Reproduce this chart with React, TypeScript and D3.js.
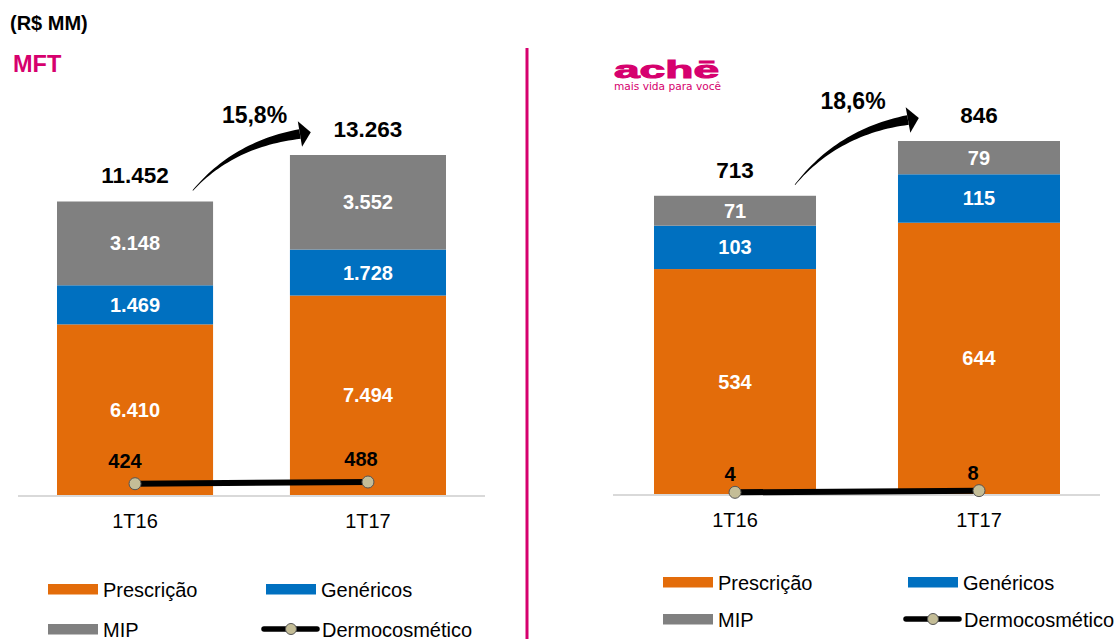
import * as d3 from "d3";

const categories = ["1T16", "1T17"];
const seriesNames = ["Prescrição", "Genéricos", "MIP"];
const seriesColors = ["#E36C0A", "#0070C0", "#808080"];

const mftPrescricao = [6410, 7494];
const mftGenericos = [1469, 1728];
const mftMip = [3148, 3552];
const mftDermo = [424, 488];
const mftTotals = ["11.452", "13.263"];
const mftGrowth = "15,8%";

const achePrescricao = [534, 644];
const acheGenericos = [103, 115];
const acheMip = [71, 79];
const acheDermo = [4, 8];
const acheTotals = ["713", "846"];
const acheGrowth = "18,6%";

const PINK = "#D6006E";
const FONT = "'Liberation Sans', Arial, Helvetica, sans-serif";

const fmt = (v: number) => d3.format(",")(v).replace(/,/g, ".");

type PanelProps = {
  series: number[][];
  dermo: number[];
  totals: string[];
  growth: string;
  growthDx: number;
  xRange: [number, number];
  padInner: number;
  baseline: number;
  topY: number;
  axisRange: [number, number];
  dermoLabelDy: number;
  dermoLabelDx: number[];
  legendX: number;
  legendY: number;
  legendColGap: number;
  legendRowGap: number;
};

function Arrow({ x0, y0, x1, y1 }: { x0: number; y0: number; x1: number; y1: number }) {
  // tapered curved arrow: thin tail growing toward a short, wide head
  const headLen = 11;
  const bx = x1 - headLen;
  const by = y1 + 3;
  const cx = x0 + (bx - x0) * 0.38;
  const cy = by + (y0 - by) * 0.18;
  const n = 32;
  const pt = (t: number) => [
    (1 - t) * (1 - t) * x0 + 2 * (1 - t) * t * cx + t * t * bx,
    (1 - t) * (1 - t) * y0 + 2 * (1 - t) * t * cy + t * t * by,
  ];
  const left: [number, number][] = [];
  const right: [number, number][] = [];
  for (let i = 0; i <= n; i++) {
    const t = i / n;
    const [px, py] = pt(t);
    const [qx, qy] = pt(Math.min(1, t + 0.01));
    const [rx, ry] = pt(Math.max(0, t - 0.01));
    let tx = qx - rx;
    let ty = qy - ry;
    const len = Math.hypot(tx, ty) || 1;
    tx /= len;
    ty /= len;
    const w = 0.3 + 4.6 * Math.pow(t, 1.1);
    left.push([px - ty * w, py + tx * w]);
    right.push([px + ty * w, py - tx * w]);
  }
  const [ex, ey] = pt(1);
  const [fx, fy] = pt(0.96);
  let ux = ex - fx;
  let uy = ey - fy;
  const ul = Math.hypot(ux, uy);
  ux /= ul;
  uy /= ul;
  const hw = 13;
  const head: [number, number][] = [
    [ex - uy * hw, ey + ux * hw],
    [ex + ux * headLen, ey + uy * headLen],
    [ex + uy * hw, ey - ux * hw],
  ];
  const line = d3.line();
  return (
    <g fill="#000">
      <path d={line([...left, ...right.reverse()]) + "Z"} />
      <path d={line(head) + "Z"} />
    </g>
  );
}

function Legend({ x, y, colGap, rowGap }: { x: number; y: number; colGap: number; rowGap: number }) {
  const items = [
    { name: seriesNames[0], color: seriesColors[0], c: 0, r: 0 },
    { name: seriesNames[1], color: seriesColors[1], c: 1, r: 0 },
    { name: seriesNames[2], color: seriesColors[2], c: 0, r: 1 },
  ];
  return (
    <g fontFamily={FONT} fontSize={20} fill="#000">
      {items.map((it) => (
        <g key={it.name} transform={`translate(${x + it.c * colGap},${y + it.r * rowGap})`}>
          <rect x={0} y={-5} width={50} height={10.5} fill={it.color} />
          <text x={55} y={7.5}>
            {it.name}
          </text>
        </g>
      ))}
      <g transform={`translate(${x + colGap},${y + rowGap})`}>
        <line x1={-2} x2={51} y1={0} y2={0} stroke="#000" strokeWidth={5.5} strokeLinecap="round" />
        <circle cx={25} cy={0} r={5.5} fill="#C4BD97" stroke="#555" strokeWidth={1} />
        <text x={56} y={7.5}>
          Dermocosmético
        </text>
      </g>
    </g>
  );
}

function Panel(p: PanelProps) {
  const x = d3.scaleBand<string>().domain(categories).range(p.xRange).paddingInner(p.padInner).paddingOuter(0);
  const stackData = categories.map((c, i) => {
    const row: Record<string, number> = {};
    seriesNames.forEach((s, k) => (row[s] = p.series[k][i]));
    return row;
  });
  const stack = d3.stack<Record<string, number>>().keys(seriesNames)(stackData);
  const tops = stack[stack.length - 1].map((d) => d[1]);
  const y = d3
    .scaleLinear()
    .domain([0, d3.max(tops) as number])
    .range([p.baseline, p.topY]);
  const bw = x.bandwidth();
  const cx = (c: string) => (x(c) as number) + bw / 2;

  const dermoLine = d3
    .line<number>()
    .x((_, i) => cx(categories[i]))
    .y((d) => y(d));

  const top0 = y(tops[0]);
  const top1 = y(tops[1]);
  const x0c = x(categories[0]) as number;
  const x1c = x(categories[1]) as number;

  return (
    <g fontFamily={FONT}>
      <line x1={p.axisRange[0]} x2={p.axisRange[1]} y1={p.baseline + 1} y2={p.baseline + 1} stroke="#D9D9D9" strokeWidth={2} />
      {stack.map((layer, k) => (
        <g key={layer.key} fill={seriesColors[k]}>
          {layer.map((d, i) => (
            <rect key={i} x={x(categories[i])} y={y(d[1])} width={bw} height={y(d[0]) - y(d[1])} />
          ))}
        </g>
      ))}
      {stack.map((layer, k) => (
        <g key={layer.key + "-l"} fill="#fff" fontSize={20} fontWeight="bold" textAnchor="middle">
          {layer.map((d, i) => (
            <text key={i} x={cx(categories[i])} y={(y(d[0]) + y(d[1])) / 2 + 7}>
              {fmt(p.series[k][i])}
            </text>
          ))}
        </g>
      ))}
      <path d={dermoLine(p.dermo) as string} stroke="#000" strokeWidth={6} fill="none" />
      {p.dermo.map((v, i) => (
        <g key={i}>
          <circle cx={cx(categories[i])} cy={y(v)} r={6} fill="#C4BD97" stroke="#555" strokeWidth={1} />
          <text
            x={cx(categories[i]) + p.dermoLabelDx[i]}
            y={y(v) + p.dermoLabelDy}
            fontSize={20}
            fontWeight="bold"
            textAnchor="middle"
            fill="#000"
          >
            {fmt(v)}
          </text>
        </g>
      ))}
      {categories.map((c) => (
        <text key={c} x={cx(c)} y={p.baseline + 33} fontSize={20} textAnchor="middle" fill="#000">
          {c}
        </text>
      ))}
      {[top0, top1].map((t, i) => (
        <text key={i} x={cx(categories[i])} y={t - 18} fontSize={22.5} fontWeight="bold" textAnchor="middle">
          {p.totals[i]}
        </text>
      ))}
      <Arrow x0={x0c + bw * 0.87} y0={top0 - 11} x1={x1c + 21} y1={top1 - 24} />
      <text x={(x0c + bw + x1c) / 2 + p.growthDx} y={top1 - 32} fontSize={23} fontWeight="bold" textAnchor="middle">
        {p.growth}
      </text>
      <Legend x={p.legendX} y={p.legendY} colGap={p.legendColGap} rowGap={p.legendRowGap} />
    </g>
  );
}

export default function App() {
  return (
    <svg width={1120} height={639} style={{ position: "absolute", left: 0, top: 0, background: "#fff" }}>
      <text x={10} y={30} fontFamily={FONT} fontSize={20} fontWeight="bold">
        (R$ MM)
      </text>
      <text x={13} y={72} fontFamily={FONT} fontSize={23.5} fontWeight="bold" fill={PINK}>
        MFT
      </text>
      <line x1={527} x2={527} y1={48} y2={639} stroke={PINK} strokeWidth={3} />
      <g fill={PINK}>
        <text
          x={614}
          y={77.5}
          fontFamily={FONT}
          fontSize={24}
          fontWeight="bold"
          stroke={PINK}
          strokeWidth={1}
          textLength={105}
          lengthAdjust="spacingAndGlyphs"
        >
          achē
        </text>
        <text x={614} y={90} fontSize={10.5} fontFamily="'DejaVu Sans', sans-serif" textLength={107} lengthAdjust="spacingAndGlyphs">
          mais vida para você
        </text>
      </g>
      <Panel
        series={[mftPrescricao, mftGenericos, mftMip]}
        dermo={mftDermo}
        totals={mftTotals}
        growth={mftGrowth}
        growthDx={3}
        xRange={[57, 446]}
        padInner={0.33}
        baseline={495}
        topY={155}
        axisRange={[18, 485]}
        dermoLabelDy={-16}
        dermoLabelDx={[-10, -7]}
        legendX={48}
        legendY={589}
        legendColGap={218}
        legendRowGap={40}
      />
      <Panel
        series={[achePrescricao, acheGenericos, acheMip]}
        dermo={acheDermo}
        totals={acheTotals}
        growth={acheGrowth}
        growthDx={-4}
        xRange={[654, 1060]}
        padInner={0.336}
        baseline={494}
        topY={141}
        axisRange={[613, 1100]}
        dermoLabelDy={-11}
        dermoLabelDx={[-5, -6]}
        legendX={663}
        legendY={582}
        legendColGap={245}
        legendRowGap={37}
      />
    </svg>
  );
}
